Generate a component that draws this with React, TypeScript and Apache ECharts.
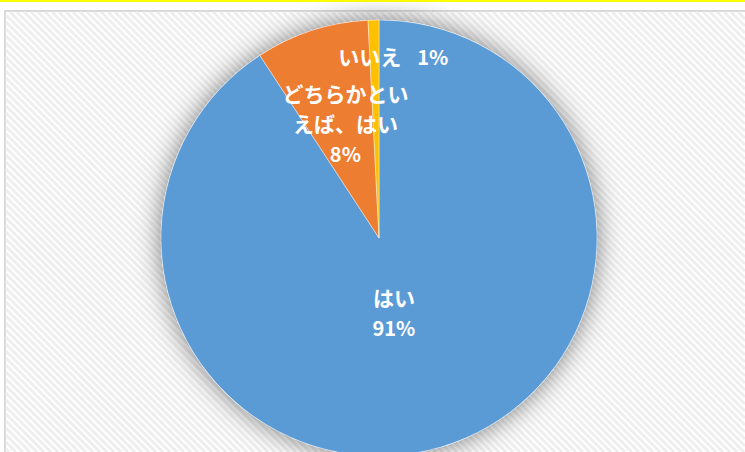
import React, { useEffect, useRef } from "react";
import * as echarts from "echarts";

const categories = ["はい", "どちらかといえば、はい", "いいえ"];
const values = [90.8, 8.4, 0.8];
const colors = ["#5B9BD5", "#ED7D31", "#FFC000"];
// label nudges relative to ECharts' "inside" position
const labelNudge: [number, number][] = [
  [-17, -33],
  [1, -8],
  [17, -70],
];

function wrap(s: string, n: number) {
  const out: string[] = [];
  for (let i = 0; i < s.length; i += n) out.push(s.slice(i, i + n));
  return out;
}

export default function App() {
  const ref = useRef<HTMLDivElement>(null);
  useEffect(() => {
    if (!ref.current) return;
    const chart = echarts.init(ref.current, null, { renderer: "svg" });
    const W = 745;
    const H = 452;
    const X0 = 6, Y0 = 12, X1 = W, Y1 = H;
    const hatch: any[] = [];
    for (let c = Y0 - X1; c <= Y1 - X0; c += 7) {
      const xs = Math.max(X0, Y0 - c);
      const xe = Math.min(X1, Y1 - c);
      if (xs < xe) {
        hatch.push({
          type: "line",
          silent: true,
          shape: { x1: xs, y1: xs + c, x2: xe, y2: xe + c },
          style: { stroke: "#eeeeee", lineWidth: 3 },
        });
      }
    }
    const font = "'Noto Sans CJK JP', 'Noto Sans', sans-serif";
    const data = categories.map((name, i) => ({
      name,
      value: values[i],
      itemStyle: { color: colors[i] },
    }));
    chart.setOption({
      animation: false,
      backgroundColor: "#ffffff",
      graphic: [
        {
          type: "group",
          z: 0,
          children: [
            { type: "rect", shape: { x: 0, y: 0, width: W, height: 2 }, style: { fill: "#FFFF00" } },
            {
              type: "rect",
              shape: { x: 5, y: 11, width: 800, height: 500 },
              style: { fill: "#ffffff", stroke: "#d9d9d9", lineWidth: 2 },
            },
            ...hatch,
          ],
        },
      ],
      series: [
        {
          type: "pie",
          z: 1,
          silent: true,
          center: [379, 238],
          radius: 218,
          data: [{ value: 1, name: "" }],
          label: { show: false },
          labelLine: { show: false },
          itemStyle: {
            color: "#ffffff",
            shadowBlur: 26,
            shadowColor: "rgba(0,0,0,0.5)",
          },
        },
        {
          type: "pie",
          z: 2,
          center: [379, 238],
          radius: 218,
          startAngle: 90,
          clockwise: true,
          data,
          itemStyle: { borderColor: "rgba(255,255,255,0.8)", borderWidth: 0.5 },
          labelLine: { show: false },
          label: {
            show: true,
            position: "inside",
            color: "#ffffff",
            fontFamily: font,
            fontWeight: "bold",
            formatter: (p: any) => {
              const pct = Math.round(p.percent) + "%";
              if (p.dataIndex === 2) return `{n|${p.name}}{g|}{p|${pct}}`;
              const lines = wrap(p.name, 6).map((t) => `{n|${t}}`);
              return lines.join("\n") + `\n{p|${pct}}`;
            },
            rich: {
              n: { fontSize: 21, fontWeight: "bold", color: "#ffffff", lineHeight: 30, fontFamily: font },
              p: { fontSize: 20, fontWeight: "bold", color: "#ffffff", lineHeight: 30, fontFamily: font },
              g: { width: 16 },
            },
          },
          labelLayout: (params: any) => {
            const n = labelNudge[params.dataIndex] || [0, 0];
            return { dx: n[0], dy: n[1] };
          },
        },
      ],
    });
    return () => chart.dispose();
  }, []);
  return (
    <div
      ref={ref}
      style={{ position: "absolute", left: 0, top: 0, width: 745, height: 452 }}
    />
  );
}
